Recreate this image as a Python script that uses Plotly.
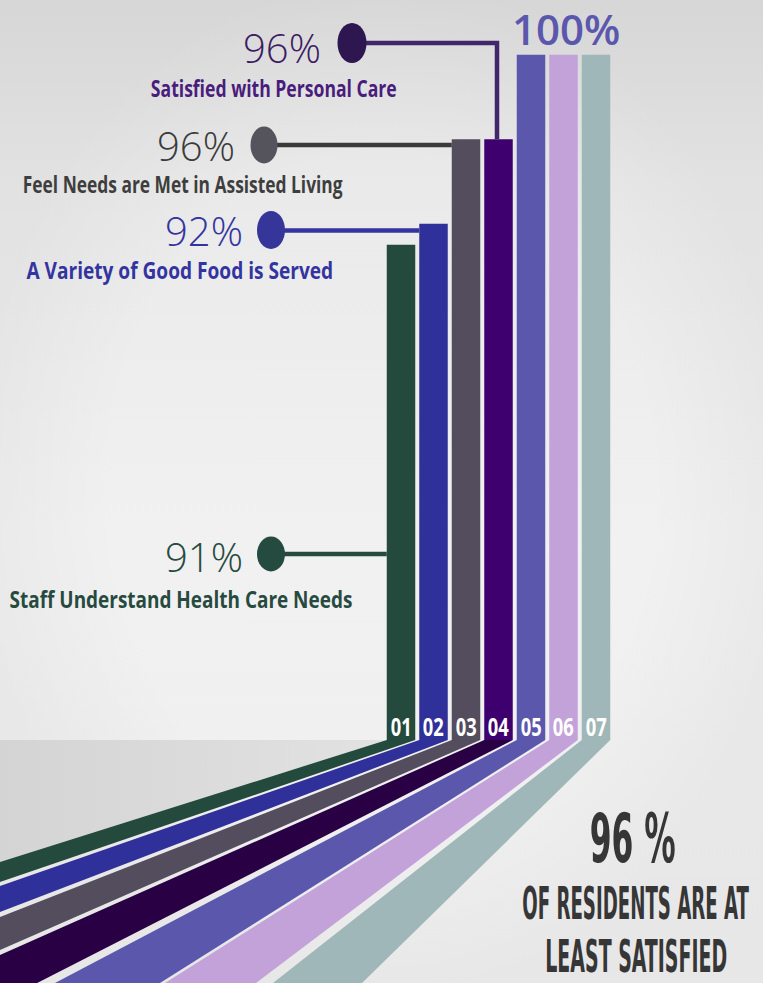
import json
import plotly.graph_objects as go

# ---- data -------------------------------------------------------------
TAGS = ["01", "02", "03", "04", "05", "06", "07"]
VALUES = [91, 92, 96, 96, 100, 100, 100]
CAPTIONS = [
    "Staff Understand Health Care Needs",
    "A Variety of Good Food is Served",
    "Feel Needs are Met in Assisted Living",
    "Satisfied with Personal Care",
    "", "", "",
]
BAR_COLORS = ["#244a3e", "#30309a", "#534d5d", "#3e006e", "#5a57ad", "#c3a2da", "#9fb7b8"]
RIBBON_COLORS = ["#244a3e", "#30309a", "#534d5d", "#2a0045", "#5a57ad", "#c3a2da", "#9fb7b8"]
SUMMARY_VALUE = 96
SUMMARY_LINES = ["OF RESIDENTS ARE AT", "LEAST SATISFIED"]

# ---- canvas and scales -----------------------------------------------
W, H = 763, 983
BAR0_PX = 401          # pixel centre of the first column
BAR_PITCH_PX = 32.5    # pixel distance between column centres
BAR_WIDTH = 0.877      # column width in category units
PCT_TOP = 102.6        # percent value at the top edge of the canvas
PX_PER_PCT = 21.1
FLOOR_PX = 740         # where the columns meet the floor

X_LO = -BAR0_PX / BAR_PITCH_PX
X_HI = (W - BAR0_PX) / BAR_PITCH_PX
FLOOR = PCT_TOP - FLOOR_PX / PX_PER_PCT
PCT_BOTTOM = PCT_TOP - H / PX_PER_PCT


def ax_x(px):
    return X_LO + px / BAR_PITCH_PX


def ax_y(py):
    return PCT_TOP - py / PX_PER_PCT


def pap_x(px):
    return px / W


def pap_y(py):
    return 1 - py / H


def extend(p0, p1, k=1.08):
    return (p0[0] + (p1[0] - p0[0]) * k, p0[1] + (p1[1] - p0[1]) * k)


# far ends of the ribbon edges on the canvas border (pixels)
RIBBON_FAR_UPPER = [(0, 862), (0, 886), (0, 917), (0, 955), (55, 983), (165, 983), (273, 983)]
RIBBON_FAR_LOWER = [(0, 882), (0, 912), (0, 950), (0, 1002), (160, 983), (256, 983), (362, 983)]

# callouts: bar index -> dot, line and text placement (pixels)
CALLOUTS = {
    3: dict(dot=(352, 43, 29, 40), elbow_px=497, pct=(323, 47), cap=(274, 88), cap_w=246,
            dot_c="#2e1650", line_c="#40266a", pct_c="#3d1b63", cap_c="#4a1c7c"),
    2: dict(dot=(264, 145, 27, 37), line_py=145, pct=(237, 144.5), cap=(182, 184), cap_w=320,
            dot_c="#55545c", line_c="#3a3a3a", pct_c="#3b3b3b", cap_c="#3e3e3e"),
    1: dict(dot=(271, 230, 28, 38), line_py=230.5, pct=(245, 230.5), cap=(180, 270), cap_w=307,
            dot_c="#35359a", line_c="#3535a0", pct_c="#3434a0", cap_c="#3434a0"),
    0: dict(dot=(271, 554, 28, 35), line_py=554, pct=(245, 556), cap=(181, 598.5), cap_w=343,
            dot_c="#254a3f", line_c="#254a3f", pct_c="#274a3f", cap_c="#274a3f"),
}

NARROW = "Liberation Sans Narrow, DejaVu Sans Condensed, Arial Narrow, sans-serif"
SANS = "Open Sans, Noto Sans, sans-serif"

fig = go.Figure()

# ---- background ------------------------------------------------------
bx = [X_LO - 1, X_HI + 1, X_HI + 1, X_LO - 1, X_LO - 1]
by = [PCT_BOTTOM - 1, PCT_BOTTOM - 1, PCT_TOP + 1, PCT_TOP + 1, PCT_BOTTOM - 1]
fig.add_trace(go.Scatter(
    x=bx, y=by, mode="lines", line=dict(width=0), fill="toself",
    fillgradient=dict(type="vertical",
                      colorscale=[[0, "#efefef"], [0.45, "#f1f1f1"], [0.8, "#eaeaea"], [1, "#dddddd"]]),
    hoverinfo="skip", xaxis="x", yaxis="y",
))
fig.add_trace(go.Scatter(
    x=bx, y=by, mode="lines", line=dict(width=0), fill="toself",
    fillgradient=dict(type="radial",
                      colorscale=[[0, "rgba(0,0,0,0)"], [0.65, "rgba(0,0,0,0)"], [1, "rgba(0,0,0,0.035)"]]),
    hoverinfo="skip", xaxis="x", yaxis="y",
))

# ---- floor plane left of the columns ---------------------------------
half = BAR_WIDTH / 2
g_top_left = (0 - half, FLOOR)
g_far = extend(g_top_left, (ax_x(RIBBON_FAR_UPPER[0][0]), ax_y(RIBBON_FAR_UPPER[0][1])))
fig.add_trace(go.Scatter(
    x=[ax_x(-10), g_top_left[0], g_far[0], ax_x(-10), ax_x(-10)],
    y=[FLOOR, FLOOR, g_far[1], g_far[1], FLOOR],
    mode="lines", line=dict(width=0), fill="toself",
    fillgradient=dict(type="horizontal", colorscale=[[0, "#d3d3d3"], [1, "#e2e2e2"]]),
    hoverinfo="skip", xaxis="x", yaxis="y",
))

# ---- ribbons running from each column toward the viewer -------------
for i in range(len(VALUES)):
    ul = (i - half, FLOOR)
    ur = (i + half, FLOOR)
    fu = extend(ul, (ax_x(RIBBON_FAR_UPPER[i][0]), ax_y(RIBBON_FAR_UPPER[i][1])))
    fl = extend(ur, (ax_x(RIBBON_FAR_LOWER[i][0]), ax_y(RIBBON_FAR_LOWER[i][1])))
    fig.add_trace(go.Scatter(
        x=[ul[0], ur[0], fl[0], fu[0], ul[0]],
        y=[ul[1], ur[1], fl[1], fu[1], ul[1]],
        mode="lines", line=dict(width=0), fill="toself",
        fillcolor=RIBBON_COLORS[i], hoverinfo="skip", xaxis="x", yaxis="y",
    ))

# ---- columns ---------------------------------------------------------
fig.add_trace(go.Bar(
    x=list(range(len(VALUES))), y=VALUES, width=BAR_WIDTH,
    marker=dict(color=BAR_COLORS, line=dict(width=0)),
    xaxis="x2", yaxis="y2", hoverinfo="skip",
))

shapes = []
annotations = []
fit_widths = {}


def fitted(text, width, **kw):
    """Annotation whose text is scaled horizontally to an exact pixel width."""
    fit_widths[text] = width
    return dict(text=text, showarrow=False, **kw)


for i, c in CALLOUTS.items():
    cx, cy, dw, dh = c["dot"]
    if "elbow_px" in c:
        path = "M {:.4f},{:.4f} L {:.4f},{:.4f} L {:.4f},{:.4f}".format(
            ax_x(cx), ax_y(cy), ax_x(c["elbow_px"]), ax_y(cy), ax_x(c["elbow_px"]), VALUES[i])
        shapes.append(dict(type="path", path=path, xref="x2", yref="y",
                           line=dict(color=c["line_c"], width=4.5)))
    else:
        ly = ax_y(c["line_py"])
        shapes.append(dict(type="line", xref="x2", yref="y", x0=ax_x(cx), x1=i - half,
                           y0=ly, y1=ly, line=dict(color=c["line_c"], width=4.5)))
    shapes.append(dict(type="circle", xref="paper", yref="paper",
                       x0=pap_x(cx - dw / 2), x1=pap_x(cx + dw / 2),
                       y0=pap_y(cy + dh / 2), y1=pap_y(cy - dh / 2),
                       fillcolor=c["dot_c"], line=dict(width=0)))
    annotations.append(dict(
        text=f"{VALUES[i]}%", x=pap_x(c["pct"][0]), y=pap_y(c["pct"][1]), height=36,
        xref="paper", yref="paper", xanchor="right", yanchor="middle", showarrow=False,
        font=dict(family=SANS, size=40, weight=300, color=c["pct_c"]),
    ))
    annotations.append(fitted(
        CAPTIONS[i], c["cap_w"], x=pap_x(c["cap"][0]), y=pap_y(c["cap"][1]),
        xref="paper", yref="paper", xanchor="center", yanchor="middle",
        font=dict(family=SANS, size=23, weight=700, color=c["cap_c"]),
    ))

# value shared by the three full-height columns
annotations.append(dict(
    text=f"{VALUES[4]}%", x=pap_x(565.5), y=pap_y(28.5), xref="paper", yref="paper",
    xanchor="center", yanchor="middle", showarrow=False,
    font=dict(family=SANS, size=42, weight=600, color="#5a57ad"),
))

# column numbers at the foot of each column
for i, tag in enumerate(TAGS):
    annotations.append(fitted(
        tag, 21, x=i, y=pap_y(726), xref="x2", yref="paper",
        xanchor="center", yanchor="middle",
        font=dict(family=SANS, size=25, weight=700, color="#ffffff"),
    ))

# summary block
summary_rows = [(f"{SUMMARY_VALUE} %", 632.5, 839, 67, 86)]
summary_rows += [(SUMMARY_LINES[0], 635, 903, 45, 227), (SUMMARY_LINES[1], 636, 956, 45, 182)]
for text, sx, sy, size, width in summary_rows:
    annotations.append(fitted(
        text, width, x=pap_x(sx), y=pap_y(sy), xref="paper", yref="paper",
        xanchor="center", yanchor="middle",
        font=dict(family=NARROW, size=size, weight="bold", color="#363636"),
    ))

axis_off = dict(visible=False, fixedrange=True, showgrid=False, zeroline=False)
fig.update_layout(
    width=W, height=H, margin=dict(l=0, r=0, t=0, b=0),
    paper_bgcolor="#eeeeee", plot_bgcolor="rgba(0,0,0,0)", showlegend=False,
    xaxis=dict(axis_off, domain=[0, 1], range=[X_LO, X_HI]),
    yaxis=dict(axis_off, domain=[0, 1], range=[PCT_BOTTOM, PCT_TOP]),
    xaxis2=dict(axis_off, domain=[0, 1], range=[X_LO, X_HI], anchor="y2"),
    yaxis2=dict(axis_off, domain=[1 - FLOOR_PX / H, 1], range=[FLOOR, PCT_TOP], anchor="x2"),
    shapes=shapes, annotations=annotations,
)

# condensed lettering: scale selected annotation texts horizontally to a set width
post = """
var gd = document.getElementById('{plot_id}');
var FIT = %s;
function fitText() {
  gd.querySelectorAll('text.annotation-text').forEach(function (t) {
    var w = FIT[t.textContent];
    if (!w) return;
    t.removeAttribute('clip-path');
    t.removeAttribute('transform');
    var bb = t.getBBox();
    if (!bb.width) return;
    var s = w / bb.width;
    var cx = bb.x + bb.width / 2;
    t.setAttribute('transform',
      'translate(' + cx + ',0) scale(' + s + ',1) translate(' + (-cx) + ',0)');
  });
}
fitText();
gd.on('plotly_afterplot', fitText);
""" % json.dumps(fit_widths)

fig.write_html("out.html", config={"displayModeBar": False, "staticPlot": True}, post_script=post)
